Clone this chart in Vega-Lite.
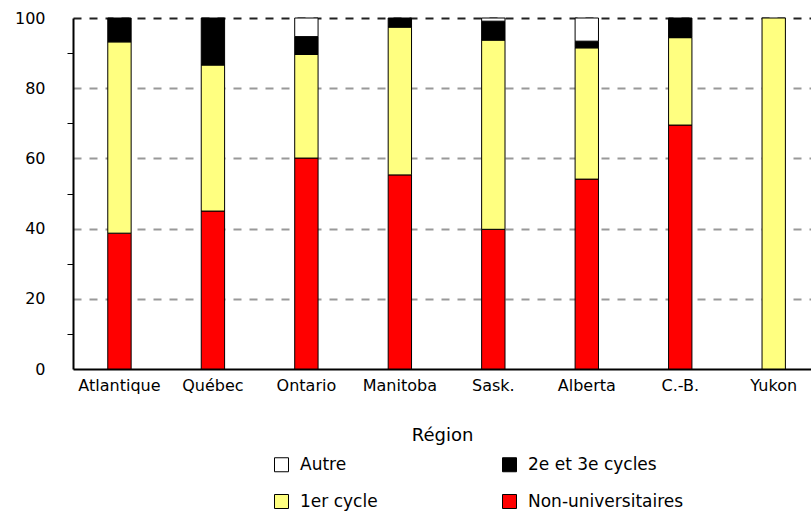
{
  "$schema": "https://vega.github.io/schema/vega-lite/v6.json",
  "autosize": "none",
  "width": 738,
  "height": 351,
  "padding": {"left": 73, "top": 18, "right": 0, "bottom": 147},
  "background": "white",
  "config": {
    "view": {"stroke": null},
    "font": "DejaVu Sans",
    "axis": {"labelFont": "DejaVu Sans", "labelColor": "black", "titleFont": "DejaVu Sans", "titleColor": "black"}
  },
  "data": {
    "values": [
      {"region": "Atlantique", "niveau": "Non-universitaires", "pct": 38.7},
      {"region": "Atlantique", "niveau": "1er cycle", "pct": 54.5},
      {"region": "Atlantique", "niveau": "2e et 3e cycles", "pct": 6.8},
      {"region": "Québec", "niveau": "Non-universitaires", "pct": 45.0},
      {"region": "Québec", "niveau": "1er cycle", "pct": 41.6},
      {"region": "Québec", "niveau": "2e et 3e cycles", "pct": 13.4},
      {"region": "Ontario", "niveau": "Non-universitaires", "pct": 60.1},
      {"region": "Ontario", "niveau": "1er cycle", "pct": 29.5},
      {"region": "Ontario", "niveau": "2e et 3e cycles", "pct": 5.1},
      {"region": "Ontario", "niveau": "Autre", "pct": 5.3},
      {"region": "Manitoba", "niveau": "Non-universitaires", "pct": 55.3},
      {"region": "Manitoba", "niveau": "1er cycle", "pct": 42.1},
      {"region": "Manitoba", "niveau": "2e et 3e cycles", "pct": 2.6},
      {"region": "Sask.", "niveau": "Non-universitaires", "pct": 39.8},
      {"region": "Sask.", "niveau": "1er cycle", "pct": 53.9},
      {"region": "Sask.", "niveau": "2e et 3e cycles", "pct": 5.4},
      {"region": "Sask.", "niveau": "Autre", "pct": 0.9},
      {"region": "Alberta", "niveau": "Non-universitaires", "pct": 54.1},
      {"region": "Alberta", "niveau": "1er cycle", "pct": 37.4},
      {"region": "Alberta", "niveau": "2e et 3e cycles", "pct": 1.9},
      {"region": "Alberta", "niveau": "Autre", "pct": 6.6},
      {"region": "C.-B.", "niveau": "Non-universitaires", "pct": 69.5},
      {"region": "C.-B.", "niveau": "1er cycle", "pct": 24.9},
      {"region": "C.-B.", "niveau": "2e et 3e cycles", "pct": 5.6},
      {"region": "Yukon", "niveau": "1er cycle", "pct": 100}
    ]
  },
  "transform": [
    {"calculate": "indexof(['Non-universitaires','1er cycle','2e et 3e cycles','Autre'], datum.niveau)", "as": "ordre"}
  ],
  "mark": {"type": "bar", "stroke": "black", "strokeWidth": 1},
  "encoding": {
    "x": {
      "field": "region",
      "type": "nominal",
      "sort": ["Atlantique", "Québec", "Ontario", "Manitoba", "Sask.", "Alberta", "C.-B.", "Yukon"],
      "scale": {"paddingInner": 0.75, "paddingOuter": 0.323, "align": 0.576},
      "axis": {
        "title": "Région",
        "titleFontSize": 18,
        "titleFontWeight": "normal",
        "titleBaseline": "top",
        "titleY": 57,
        "labelAngle": 0,
        "labelFontSize": 16,
        "labelPadding": 8,
        "ticks": false,
        "domainColor": "black",
        "domainWidth": 2
      }
    },
    "y": {
      "field": "pct",
      "type": "quantitative",
      "stack": "zero",
      "scale": {"domain": [0, 100], "nice": false},
      "axis": {
        "title": null,
        "values": [0, 10, 20, 30, 40, 50, 60, 70, 80, 90, 100],
        "labelExpr": "datum.value % 20 == 0 ? datum.label : ''",
        "labelFontSize": 16,
        "labelPadding": 22,
        "tickSize": 6,
        "tickColor": "black",
        "tickOpacity": {"condition": {"test": "datum.value % 20 != 0", "value": 1}, "value": 0},
        "domainColor": "black",
        "domainWidth": 2,
        "grid": true,
        "gridDash": [8, 8],
        "gridWidth": 2,
        "gridColor": {"condition": {"test": "datum.value == 100", "value": "#222222"}, "value": "#999999"},
        "gridOpacity": {"condition": {"test": "datum.value % 20 == 0 && datum.value > 0", "value": 1}, "value": 0}
      }
    },
    "color": {
      "field": "niveau",
      "type": "nominal",
      "scale": {
        "domain": ["Autre", "2e et 3e cycles", "1er cycle", "Non-universitaires"],
        "range": ["#ffffff", "#000000", "#ffff80", "#ff0000"]
      },
      "legend": {
        "title": null,
        "orient": "none",
        "direction": "horizontal",
        "legendX": 200,
        "legendY": 438,
        "columns": 2,
        "columnPadding": 122,
        "rowPadding": 18,
        "symbolType": "square",
        "symbolSize": 196,
        "symbolStrokeColor": "black",
        "symbolStrokeWidth": 1,
        "symbolOpacity": 1,
        "labelFont": "DejaVu Sans",
        "labelFontSize": 17,
        "labelColor": "black",
        "labelOffset": 10
      }
    },
    "order": {"field": "ordre", "type": "quantitative", "sort": "ascending"}
  }
}
